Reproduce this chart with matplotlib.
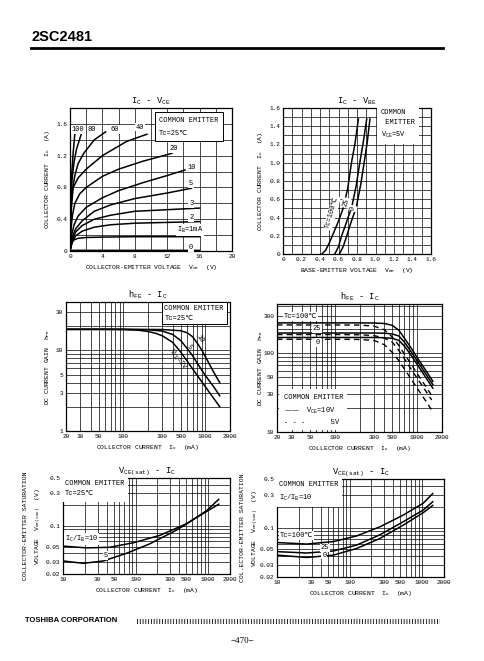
import matplotlib
matplotlib.use("Agg")
import matplotlib.pyplot as plt
from matplotlib.ticker import LogLocator, NullFormatter, FixedLocator, FixedFormatter
from matplotlib.patches import Rectangle

plt.rcParams['font.family'] = ['Liberation Mono', 'DejaVu Sans Mono', 'DejaVu Sans']
plt.rcParams['mathtext.default'] = 'regular'
plt.rcParams['hatch.linewidth'] = 0.6

W, H = 484, 661

# ---- IC - VCE (IB in mA) ----
ib_labels = ['0', '1', '2', '3', '5', '10', '20', '40', '60', '80', '100']
vce_curves = [
    [0, 0.3, 16],
    [0, 0.2, 0.5, 1, 2, 4, 8, 12, 16],
    [0, 0.3, 0.7, 1.5, 3, 5, 8, 12, 16],
    [0, 0.3, 0.7, 1.5, 3, 5, 8, 12, 16],
    [0, 0.3, 0.7, 1.5, 3, 5, 8, 12, 15],
    [0, 0.2, 0.5, 1, 2, 4, 6, 9, 12, 14.2],
    [0, 0.1, 0.3, 0.6, 1.2, 2, 4, 6, 9, 12.6],
    [0, 0.1, 0.2, 0.4, 1, 2, 4, 7, 9.5],
    [0, 0.1, 0.3, 0.6, 1, 1.7, 3, 4.4],
    [0, 0.1, 0.25, 0.5, 0.8, 1.45],
    [0, 0.1, 0.2, 0.4, 0.62],
]
ic_curves = [
    [0, 0.008, 0.008],
    [0, 0.1, 0.14, 0.16, 0.17, 0.175, 0.18, 0.18, 0.18],
    [0, 0.12, 0.19, 0.25, 0.30, 0.33, 0.35, 0.36, 0.37],
    [0, 0.14, 0.24, 0.32, 0.40, 0.45, 0.50, 0.52, 0.54],
    [0, 0.18, 0.28, 0.38, 0.50, 0.58, 0.66, 0.73, 0.79],
    [0, 0.2, 0.33, 0.44, 0.55, 0.67, 0.76, 0.86, 0.95, 1.02],
    [0, 0.25, 0.45, 0.6, 0.72, 0.8, 0.94, 1.03, 1.13, 1.23],
    [0, 0.35, 0.6, 0.8, 0.92, 1.03, 1.2, 1.38, 1.47],
    [0, 0.45, 0.78, 0.95, 1.1, 1.23, 1.4, 1.5],
    [0, 0.6, 0.9, 1.12, 1.28, 1.49],
    [0, 0.7, 0.95, 1.25, 1.5],
]

# ---- IC - VBE ----
tc_vbe = ['100', '25', '0']
vbe_curves = [
    [0.42, 0.46, 0.50, 0.55, 0.60, 0.65, 0.70, 0.74, 0.78, 0.815],
    [0.56, 0.60, 0.634, 0.67, 0.71, 0.74, 0.79, 0.83, 0.87, 0.905],
    [0.61, 0.65, 0.69, 0.72, 0.76, 0.79, 0.84, 0.877, 0.91, 0.94],
]
ic_vbe_curves = [
    [0, 0.04, 0.12, 0.24, 0.36, 0.50, 0.72, 1.0, 1.22, 1.48],
    [0, 0.08, 0.2, 0.3, 0.42, 0.5, 0.74, 1.0, 1.24, 1.48],
    [0, 0.08, 0.2, 0.3, 0.42, 0.5, 0.76, 1.0, 1.22, 1.48],
]

# ---- hFE - IC, Tc=25C ----
hfe_ic_2v = [20, 60, 100, 150, 200, 250, 300, 400, 500, 700, 1000, 1500]
hfe_2v = [18.3, 18.3, 18.2, 17.9, 17.2, 16.3, 15.2, 12.6, 9.6, 5.9, 3.55, 2.0]
hfe_ic_5v = [20, 100, 200, 300, 400, 500, 600, 700, 850, 1000, 1250, 1500]
hfe_5v = [18.3, 18.3, 18.1, 17.4, 15.8, 13.3, 10.6, 8.6, 6.3, 4.9, 3.6, 2.74]
hfe_ic_10v = [20, 100, 300, 500, 600, 700, 800, 900, 1000, 1250, 1500]
hfe_10v = [18.3, 18.3, 18.2, 17.6, 16.6, 14.8, 12.3, 10.2, 8.4, 5.5, 3.98]

# ---- hFE - IC, VCE = 10V (solid) / 5V (dashed) ----
hfe_tc = ['100', '25', '0']
hfe_t_ic_solid = [20, 100, 200, 300, 400, 500, 600, 700, 850, 1000, 1250, 1550]
hfe_t_solid = [
    [242, 242, 242, 241, 238, 225, 195, 155, 115, 88, 62, 44],
    [180, 180, 180, 180, 179, 175, 165, 138, 103, 80, 56, 40],
    [158, 158, 158, 158, 157, 154, 145, 123, 93, 72, 50.5, 36],
]
hfe_t_ic_dash = [20, 100, 200, 300, 400, 500, 600, 700, 850, 1000, 1250, 1500]
hfe_t_dash = [
    [228, 228, 227, 220, 198, 160, 125, 97, 72, 55, 38.8, 29],
    [172, 172, 171, 167, 155, 138, 108, 85, 62, 48, 34, 25.5],
    [150, 150, 149, 145, 128, 102, 80, 63, 46.5, 36, 25.4, 19],
]

# ---- VCE(sat) - IC, Tc=25C ----
sat_ic = [10, 21, 44, 93, 216, 505, 950, 1400]
sat_10 = [0.051, 0.048, 0.049, 0.057, 0.073, 0.108, 0.167, 0.245]
sat_ic5 = [10, 19, 36, 75, 157, 365, 770, 1400]
sat_5 = [0.031, 0.0286, 0.031, 0.040, 0.055, 0.087, 0.142, 0.208]

# ---- VCE(sat) - IC, IC/IB=10 ----
sat_t_ic = [10, 25.7, 59.6, 125, 262, 550, 1030, 1400]
sat_t = [
    [0.062, 0.059, 0.064, 0.077, 0.104, 0.153, 0.225, 0.31],
    [0.046, 0.044, 0.047, 0.057, 0.080, 0.123, 0.18, 0.237],
    [0.041, 0.038, 0.041, 0.051, 0.071, 0.11, 0.165, 0.21],
]

FS = 4.6      # axis labels
TS = 4.4      # tick labels
LS = 5.0      # notes inside plots
TITLE = 6.3
LW = 1.1
GRID = dict(color='black', linewidth=0.5)
BOX = dict(fc='white', ec='none', pad=0.6)

fig = plt.figure(figsize=(W / 100, H / 100), dpi=100)


def add_ax(x0, y0, x1, y1):
    ax = fig.add_axes([x0 / W, 1 - y1 / H, (x1 - x0) / W, (y1 - y0) / H])
    for s in ax.spines.values():
        s.set_linewidth(0.9)
    ax.tick_params(which='both', length=0, labelsize=TS, pad=2)
    return ax


def log_grid(ax, xt, yt):
    ax.set_xscale('log')
    ax.set_yscale('log')
    ax.xaxis.set_major_locator(FixedLocator(xt))
    ax.xaxis.set_major_formatter(FixedFormatter([str(v) for v in xt]))
    ax.yaxis.set_major_locator(FixedLocator(yt))
    ax.yaxis.set_major_formatter(FixedFormatter([('%g' % v) for v in yt]))
    ax.xaxis.set_minor_locator(LogLocator(subs=range(1, 10)))
    ax.yaxis.set_minor_locator(LogLocator(subs=range(1, 10)))
    ax.xaxis.set_minor_formatter(NullFormatter())
    ax.yaxis.set_minor_formatter(NullFormatter())
    ax.grid(True, which='both', **GRID)
    ax.set_axisbelow(True)


def fig_text(x, y, s, **kw):
    fig.text(x / W, 1 - y / H, s, **kw)


# header
fig_text(32, 37, '2SC2481', fontsize=10.5, fontweight='bold', family='Liberation Sans',
         va='center', ha='left')
fig.add_artist(plt.Line2D([31 / W, 443 / W], [1 - 48 / H, 1 - 48 / H], color='black', linewidth=2))

# ---------- 1: IC - VCE ----------
ax1 = add_ax(70, 108, 232, 251)
for v, i in zip(vce_curves, ic_curves):
    ax1.plot(v, i, color='black', linewidth=LW)
ax1.set_xlim(0, 20)
ax1.set_ylim(0, 1.8)
ax1.set_xticks(range(0, 21, 2), minor=True)
ax1.set_yticks([x / 10 for x in range(0, 18, 2)], minor=True)
ax1.set_xticks([0, 4, 8, 12, 16, 20])
ax1.set_yticks([0, 0.4, 0.8, 1.2, 1.6])
ax1.set_yticklabels(['0', '0.4', '0.8', '1.2', '1.6'])
ax1.grid(True, which='both', **GRID)
ax1.set_title('I$_C$ - V$_{CE}$', fontsize=TITLE, pad=3)
ax1.set_xlabel('COLLECTOR-EMITTER VOLTAGE  V$_{CE}$  (V)', fontsize=FS, labelpad=3)
ax1.set_ylabel('COLLECTOR CURRENT  I$_C$  (A)', fontsize=FS, labelpad=3)
ax1.text(0.55, 0.94, 'COMMON EMITTER\n\nTc=25\u2103', transform=ax1.transAxes, fontsize=LS,
         va='top', ha='left', linespacing=0.95, bbox=dict(fc='white', ec='black', lw=0.7, pad=3))
for lab, xx, yy in [('100', 0.25, 1.53), ('80', 2.2, 1.53), ('60', 5.0, 1.53), ('40', 8.1, 1.56),
                    ('20', 12.3, 1.29), ('10', 14.5, 1.05), ('5', 14.7, 0.85), ('3', 14.7, 0.6),
                    ('2', 14.7, 0.42), ('I$_B$=1mA', 13.2, 0.26), ('0', 14.7, 0.04)]:
    ax1.text(xx, yy, lab, fontsize=LS, ha='left', va='center', bbox=BOX)

# ---------- 2: IC - VBE ----------
ax2 = add_ax(283, 108, 431, 254)
for v, i in zip(vbe_curves, ic_vbe_curves):
    ax2.plot(v, i, color='black', linewidth=LW)
ax2.set_xlim(0, 1.6)
ax2.set_ylim(0, 1.6)
ax2.set_xticks([x / 10 for x in range(0, 17)], minor=True)
ax2.set_yticks([x / 10 for x in range(0, 17)], minor=True)
tk = [x / 10 for x in range(0, 17, 2)]
ax2.set_xticks(tk)
ax2.set_xticklabels(['0'] + ['%.1f' % t for t in tk[1:]])
ax2.set_yticks(tk)
ax2.set_yticklabels(['0'] + ['%.1f' % t for t in tk[1:]])
ax2.grid(True, which='both', **GRID)
ax2.set_title('I$_C$ - V$_{BE}$', fontsize=TITLE, pad=3)
ax2.set_xlabel('BASE-EMITTER VOLTAGE  V$_{BE}$  (V)', fontsize=FS, labelpad=3)
ax2.set_ylabel('COLLECTOR CURRENT  I$_C$  (A)', fontsize=FS, labelpad=3)
ax2.text(0.66, 0.99, 'COMMON\n EMITTER\nV$_{CE}$=5V', transform=ax2.transAxes, fontsize=LS,
         va='top', ha='left', linespacing=1.5, bbox=dict(fc='white', ec='none', pad=3))
ax2.text(0.53, 0.45, 'Tc=100\u2103', fontsize=LS, rotation=74, ha='center', va='center', bbox=BOX)
ax2.text(0.68, 0.56, '25', fontsize=LS, rotation=74, ha='center', va='center', bbox=BOX)
ax2.text(0.755, 0.50, '0', fontsize=LS, rotation=74, ha='center', va='center', bbox=BOX)

# ---------- 3: hFE - IC (Tc=25) ----------
ax3 = add_ax(66, 302, 230, 431)
ax3.plot(hfe_ic_2v, hfe_2v, color='black', linewidth=LW)
ax3.plot(hfe_ic_5v, hfe_5v, color='black', linewidth=LW)
ax3.plot(hfe_ic_10v, hfe_10v, color='black', linewidth=LW)
log_grid(ax3, [20, 30, 50, 100, 300, 500, 1000, 2000], [1, 3, 5, 10, 30])
ax3.set_xlim(20, 2000)
ax3.set_ylim(1, 40)
ax3.set_title('h$_{FE}$ - I$_C$', fontsize=TITLE, pad=3)
ax3.set_xlabel('COLLECTOR CURRENT  I$_C$  (mA)', fontsize=FS, labelpad=3)
ax3.set_ylabel('DC CURRENT GAIN  h$_{FE}$', fontsize=FS, labelpad=3)
ax3.text(0.6, 0.98, 'COMMON EMITTER\nTc=25\u2103', transform=ax3.transAxes, fontsize=LS,
         va='top', ha='left', linespacing=1.6, bbox=dict(fc='white', ec='black', lw=0.7, pad=2))
ax3.text(860, 14.0, '10', fontsize=LS, rotation=-58, ha='center', va='center')
ax3.text(640, 11.2, '5', fontsize=LS, rotation=-58, ha='center', va='center')
ax3.text(460, 7.6, 'V$_{CE}$=2V', fontsize=LS, rotation=-52, ha='center', va='center')

# ---------- 4: hFE - IC (Tc) ----------
ax4 = add_ax(277, 304, 442, 432)
for h in hfe_t_solid:
    ax4.plot(hfe_t_ic_solid, h, color='black', linewidth=LW)
for h in hfe_t_dash:
    ax4.plot(hfe_t_ic_dash, h, color='black', linewidth=LW * 0.9, linestyle=(0, (4, 3)))
log_grid(ax4, [20, 30, 50, 100, 300, 500, 1000, 2000], [10, 30, 50, 100, 300])
ax4.set_xlim(20, 2000)
ax4.set_ylim(10, 420)
ax4.set_title('h$_{FE}$ - I$_C$', fontsize=TITLE, pad=3)
ax4.set_xlabel('COLLECTOR CURRENT  I$_C$  (mA)', fontsize=FS, labelpad=3)
ax4.set_ylabel('DC CURRENT GAIN  h$_{FE}$', fontsize=FS, labelpad=-1)
ax4.text(0.04, 0.30, 'COMMON EMITTER\n\u2014\u2014  V$_{CE}$=10V\n- - -      5V', transform=ax4.transAxes,
         fontsize=LS, va='top', ha='left', linespacing=1.7, bbox=dict(fc='white', ec='none', pad=3))
ax4.text(24, 290, 'Tc=100\u2103', fontsize=LS, ha='left', va='center', bbox=BOX)
ax4.text(54, 205, '25', fontsize=LS, ha='left', va='center', bbox=BOX)
ax4.text(59, 136, '0', fontsize=LS, ha='left', va='center', bbox=BOX)

# ---------- 5: VCE(sat) - IC (Tc=25) ----------
ax5 = add_ax(63, 478, 230, 574)
ax5.plot(sat_ic, sat_10, color='black', linewidth=LW)
ax5.plot(sat_ic5, sat_5, color='black', linewidth=LW)
log_grid(ax5, [10, 30, 50, 100, 300, 500, 1000, 2000], [0.02, 0.03, 0.05, 0.1, 0.3, 0.5])
ax5.set_xlim(10, 2000)
ax5.set_ylim(0.02, 0.5)
ax5.set_title('V$_{CE(sat)}$ - I$_C$', fontsize=TITLE, pad=3)
ax5.set_xlabel('COLLECTOR CURRENT  I$_C$  (mA)', fontsize=FS, labelpad=3)
ax5.set_ylabel('COLLECTOR-EMITTER SATURATION\nVOLTAGE  V$_{CE(sat)}$  (V)', fontsize=FS, labelpad=1,
               linespacing=1.9)
ax5.text(0.01, 0.98, 'COMMON EMITTER\nTc=25\u2103', transform=ax5.transAxes, fontsize=LS,
         va='top', ha='left', linespacing=1.7, bbox=dict(fc='white', ec='none', pad=3))
ax5.text(10.5, 0.065, 'I$_C$/I$_B$=10', fontsize=LS, ha='left', va='center', bbox=BOX)
ax5.text(36, 0.037, '5', fontsize=LS, ha='left', va='center', bbox=BOX)

# ---------- 6: VCE(sat) - IC (Tc) ----------
ax6 = add_ax(277, 479, 444, 577)
for s in sat_t:
    ax6.plot(sat_t_ic, s, color='black', linewidth=LW)
log_grid(ax6, [10, 30, 50, 100, 300, 500, 1000, 2000], [0.02, 0.03, 0.05, 0.1, 0.3, 0.5])
ax6.set_xlim(10, 2000)
ax6.set_ylim(0.02, 0.5)
ax6.set_title('V$_{CE(sat)}$ - I$_C$', fontsize=TITLE, pad=3)
ax6.set_xlabel('COLLECTOR CURRENT  I$_C$  (mA)', fontsize=FS, labelpad=3)
ax6.set_ylabel('COL.ECTOR-EMITTER SATURATION\nVOLTAGE  V$_{CE(sat)}$  (V)', fontsize=FS, labelpad=-1,
               linespacing=1.9)
ax6.text(0.01, 0.98, 'COMMON EMITTER\nI$_C$/I$_B$=10', transform=ax6.transAxes, fontsize=LS,
         va='top', ha='left', linespacing=1.7, bbox=dict(fc='white', ec='none', pad=3))
ax6.text(11, 0.078, 'Tc=100\u2103', fontsize=LS, ha='left', va='center', bbox=BOX)
ax6.text(40, 0.052, '25', fontsize=LS, ha='left', va='center', bbox=BOX)
ax6.text(42, 0.041, '0', fontsize=LS, ha='left', va='center', bbox=BOX)

# footer
fig_text(25, 621, 'TOSHIBA CORPORATION', fontsize=5.5, fontweight='bold', family='Liberation Sans',
         va='center', ha='left')
fig.add_artist(Rectangle((137 / W, 1 - 624 / H), (440 - 137) / W, 5 / H, transform=fig.transFigure,
                         fill=False, hatch='||||||', edgecolor='black', linewidth=0))
fig_text(242, 641, '\u2212470\u2212', fontsize=6.5, family='Liberation Serif', va='center', ha='center')

fig.savefig('out.png', dpi=100, facecolor='white')
